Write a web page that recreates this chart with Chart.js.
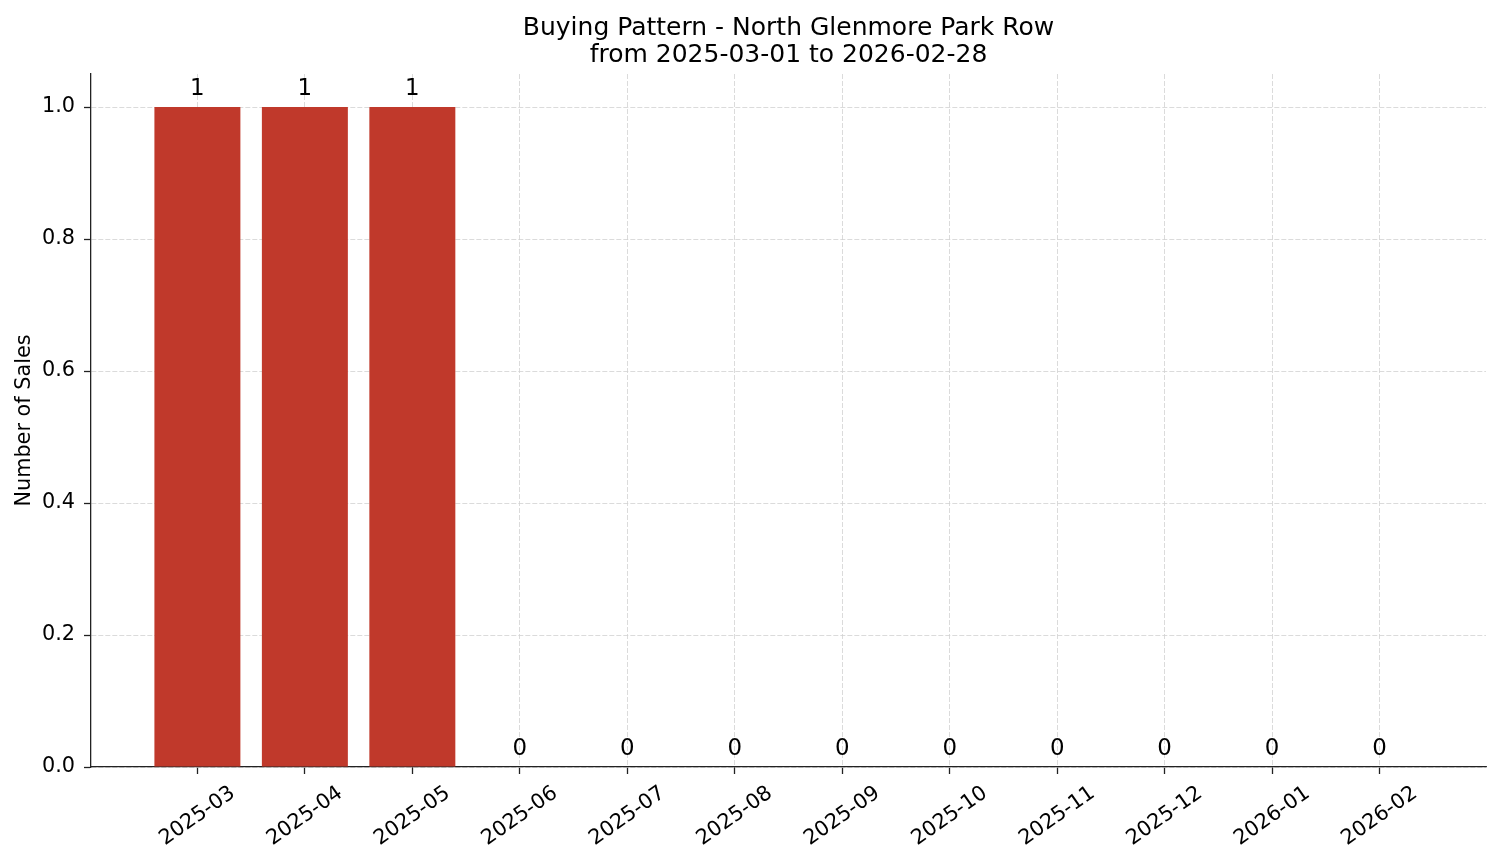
<!DOCTYPE html>
<html>
<head>
<meta charset="utf-8">
<script src="https://cdn.jsdelivr.net/npm/chart.js@4.4.1/dist/chart.umd.min.js"></script>
<style>
  html, body { margin: 0; padding: 0; background: #fff; }
  #wrap { width: 1501px; height: 863px; position: relative; }
</style>
</head>
<body>
<div id="wrap"><canvas id="c"></canvas></div>
<script>
const months = ["2025-03","2025-04","2025-05","2025-06","2025-07","2025-08","2025-09","2025-10","2025-11","2025-12","2026-01","2026-02"];
const sales = [1, 1, 1, 0, 0, 0, 0, 0, 0, 0, 0, 0];
const yTickValues = [0, 0.2, 0.4, 0.6, 0.8, 1.0];
const titleLines = ["Buying Pattern - North Glenmore Park Row", "from 2025-03-01 to 2026-02-28"];
const yAxisLabel = "Number of Sales";

const FONT = "'DejaVu Sans', sans-serif";
const GRID = "#d2d2d2";
const SPINE = "#222";

const barLabels = {
  id: 'barLabels',
  afterDatasetsDraw(chart) {
    const ctx = chart.ctx;
    const meta = chart.getDatasetMeta(0);
    ctx.save();
    ctx.font = "22.9px " + FONT;
    ctx.fillStyle = "#000";
    ctx.textAlign = "center";
    ctx.textBaseline = "alphabetic";
    meta.data.forEach((bar, i) => {
      ctx.fillText(String(sales[i]), bar.x, bar.y - 12.5);
    });
    ctx.restore();
  }
};

new Chart(document.getElementById('c'), {
  type: 'bar',
  data: {
    datasets: [{
      data: months.map((m, i) => ({ x: i, y: sales[i] })),
      backgroundColor: "#c0392b",
      borderWidth: 0,
      barPercentage: 0.8,
      categoryPercentage: 1.0
    }]
  },
  options: {
    responsive: true,
    maintainAspectRatio: false,
    animation: false,
    layout: { padding: { left: 0, right: 15, top: 0, bottom: 0 } },
    plugins: {
      legend: { display: false },
      tooltip: { enabled: false },
      title: {
        display: true,
        fullSize: false,
        text: titleLines,
        color: "#000",
        font: { family: FONT, size: 25, weight: 'normal', lineHeight: 1.08 },
        padding: { top: 14.5, bottom: 5.5 }
      }
    },
    scales: {
      x: {
        type: 'linear',
        min: -0.99,
        max: 11.99,
        offset: false,
        z: 1,
        afterBuildTicks(scale) { scale.ticks = months.map((m, i) => ({ value: i })); },
        afterFit(scale) { scale.height = 96; },
        ticks: {
          autoSkip: false,
          minRotation: 35,
          maxRotation: 35,
          labelOffset: 35.6,
          padding: 7,
          color: "#000",
          font: { family: FONT, size: 20.8 },
          callback: (v) => months[v]
        },
        grid: {
          offset: false,
          color: GRID,
          lineWidth: 0.8,
          drawTicks: true,
          tickLength: 7,
          tickColor: SPINE,
          tickWidth: 1.3
        },
        border: { display: true, color: SPINE, width: 1.3, dash: [5, 2] }
      },
      y: {
        type: 'linear',
        min: 0,
        max: 1.05,
        z: 1,
        afterBuildTicks(scale) { scale.ticks = yTickValues.map(v => ({ value: v })); },
        afterFit(scale) { scale.width = 91; },
        ticks: {
          padding: 9,
          color: "#000",
          font: { family: FONT, size: 20.8 },
          callback: (v) => Number(v).toFixed(1)
        },
        grid: {
          color: GRID,
          lineWidth: 0.8,
          drawTicks: true,
          tickLength: 7,
          tickColor: SPINE,
          tickWidth: 1.3
        },
        border: { display: true, color: SPINE, width: 1.3, dash: [5, 2] },
        title: {
          display: true,
          text: yAxisLabel,
          color: "#000",
          font: { family: FONT, size: 20.8 },
          padding: { top: 12.5, bottom: 0 }
        }
      }
    }
  },
  plugins: [barLabels]
});
</script>
</body>
</html>
